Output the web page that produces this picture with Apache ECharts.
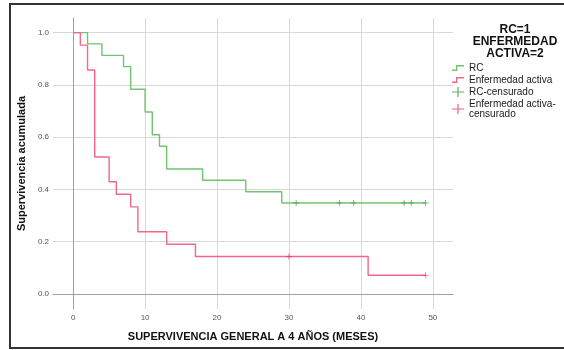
<!DOCTYPE html>
<html>
<head>
<meta charset="utf-8">
<script src="https://cdn.jsdelivr.net/npm/echarts@6/dist/echarts.min.js"></script>
<style>
html,body{margin:0;padding:0;background:#fff;}
#c{width:564px;height:350px;}
</style>
</head>
<body>
<div id="c"></div>
<script>
// Kaplan-Meier step points (months, cumulative survival)
const rcTimes = [0, 2, 4, 7, 8, 10, 11, 12, 13, 18, 24, 29, 49];
const rcSurv  = [1.0, 0.957, 0.913, 0.870, 0.783, 0.696, 0.609, 0.565, 0.478, 0.435, 0.391, 0.348, 0.348];
const eaTimes = [0, 1, 2, 3, 5, 6, 8, 9, 13, 17, 41, 49];
const eaSurv  = [1.0, 0.952, 0.857, 0.524, 0.429, 0.381, 0.333, 0.238, 0.190, 0.143, 0.071, 0.071];
// censored observations
const rcCensTimes = [31, 37, 39, 46, 47, 49];
const rcCensSurv  = [0.348, 0.348, 0.348, 0.348, 0.348, 0.348];
const eaCensTimes = [30, 49];
const eaCensSurv  = [0.143, 0.071];
// labels
const seriesNames = ['RC', 'Enfermedad activa', 'RC-censurado', 'Enfermedad activa-\ncensurado'];
const legendTitle = 'RC=1\nENFERMEDAD\nACTIVA=2';
const xTitle = 'SUPERVIVENCIA GENERAL A 4 AÑOS (MESES)';
const yTitle = 'Supervivencia acumulada';

const zip = (a, b) => a.map((v, i) => [v, b[i]]);
const stepIcon = 'path://M0,4.6 H4 V0 H12 V1.4 H5.4 V6 H0 Z';
const crossIcon = 'path://M5.4,0 H6.6 V4.4 H12 V5.6 H6.6 V10 H5.4 V5.6 H0 V4.4 H5.4 Z';
const crossSym = 'path://M4.3,0 H5.7 V4.3 H10 V5.7 H5.7 V10 H4.3 V5.7 H0 V4.3 H4.3 Z';

const green = '#74c274', greenDark = '#3c9a3c';
const red = '#f2678a', redDark = '#e8386a';
const boldFont = '"Liberation Sans",Arial,sans-serif';

const chart = echarts.init(document.getElementById('c'), null, {renderer: 'canvas'});
chart.setOption({
  animation: false,
  backgroundColor: '#fff',
  title: {
    text: legendTitle,
    left: 510, top: 19, textAlign: 'center',
    textStyle: {fontFamily: boldFont, fontWeight: 'bold', fontSize: 12, lineHeight: 12, color: '#111'}
  },
  legend: {
    orient: 'vertical', left: 452, top: 63, padding: 0,
    itemWidth: 12, itemHeight: 10, itemGap: 2,
    textStyle: {fontFamily: '"Liberation Sans",sans-serif', fontSize: 10, lineHeight: 10, color: '#1a1a1a'},
    data: [
      {name: seriesNames[0], icon: stepIcon},
      {name: seriesNames[1], icon: stepIcon},
      {name: seriesNames[2], icon: crossIcon},
      {name: seriesNames[3], icon: crossIcon}
    ]
  },
  graphic: [{
    type: 'rect', silent: true,
    shape: {x: 10, y: 4, width: 700, height: 344},
    style: {fill: 'none', stroke: '#333', lineWidth: 2}
  }],
  grid: {left: 53, top: 18, width: 400, height: 291},
  xAxis: {
    type: 'value', min: -2.8, max: 52.8,
    name: xTitle, nameLocation: 'middle', nameGap: 22,
    nameTextStyle: {fontFamily: boldFont, fontWeight: 'bold', fontSize: 11, color: '#111'},
    axisLine: {show: true, lineStyle: {color: '#a0a0a0', width: 1}},
    axisTick: {show: false},
    axisLabel: {showMinLabel: false, showMaxLabel: false, margin: 5, fontSize: 8, color: '#555',
      fontFamily: '"Liberation Sans",sans-serif', formatter: v => String(Math.round(v))},
    splitLine: {show: true, showMaxLine: false, showMinLine: false, lineStyle: {color: '#d8d8d8', width: 1}}
  },
  yAxis: {
    type: 'value', min: -0.058, max: 1.056,
    name: yTitle, nameLocation: 'middle', nameGap: 24, nameRotate: 90,
    nameTextStyle: {fontFamily: boldFont, fontWeight: 'bold', fontSize: 11, color: '#111'},
    axisLine: {show: true, lineStyle: {color: '#a0a0a0', width: 1}},
    axisTick: {show: false},
    axisLabel: {showMinLabel: false, showMaxLabel: false, margin: 4, fontSize: 8, color: '#555',
      fontFamily: '"Liberation Sans",sans-serif', formatter: v => v.toFixed(1)},
    splitLine: {show: true, showMaxLine: false, showMinLine: false, lineStyle: {color: '#d8d8d8', width: 1}}
  },
  series: [
    {name: seriesNames[0], type: 'line', step: 'end', data: zip(rcTimes, rcSurv),
     showSymbol: false, color: green, lineStyle: {color: green, width: 1.4}, z: 2},
    {name: seriesNames[1], type: 'line', step: 'end', data: zip(eaTimes, eaSurv),
     showSymbol: false, color: red, lineStyle: {color: red, width: 1.4}, z: 3},
    {name: seriesNames[2], type: 'scatter', data: zip(rcCensTimes, rcCensSurv),
     symbol: crossSym, symbolSize: 6, color: greenDark, itemStyle: {color: greenDark}, z: 4},
    {name: seriesNames[3], type: 'scatter', data: zip(eaCensTimes, eaCensSurv),
     symbol: crossSym, symbolSize: 6, color: redDark, itemStyle: {color: redDark}, z: 4}
  ]
});
</script>
</body>
</html>
